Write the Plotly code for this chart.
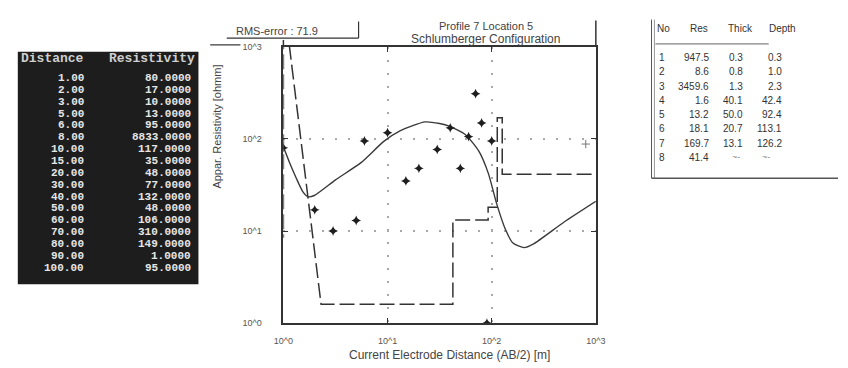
import plotly.graph_objects as go

W, H = 848, 368

# ---------------- data ----------------
distance = [1, 2, 3, 5, 6, 8, 10, 15, 20, 30, 40, 50, 60, 70, 80, 90, 100]
resistivity = [80, 17, 10, 13, 95, 8833, 117, 35, 48, 77, 132, 48, 106, 310, 149, 1, 95]

extra_x = [800]
extra_y = [88]

curve_x = [1.0, 1.155, 1.33, 1.54, 1.72, 1.98, 3.14, 5.6, 9.2, 13.3, 22.9, 31.6, 39,
           56, 75, 93, 111, 135, 160, 205, 250, 500, 1000]
curve_y = [82, 54, 37.4, 26.6, 23.6, 24.3, 35.7, 55.6, 94, 123, 153, 147, 138,
           111, 74, 42, 20.2, 10.5, 7.4, 6.6, 7.2, 12.6, 21]

layer_no = [1, 2, 3, 4, 5, 6, 7, 8]
layer_res = [947.5, 8.6, 3459.6, 1.6, 13.2, 18.1, 169.7, 41.4]
layer_thick = [0.3, 0.8, 1.3, 40.1, 50.0, 20.7, 13.1]
layer_depth = [0.3, 1.0, 2.3, 42.4, 92.4, 113.1, 126.2]

x_ticks = [1, 10, 100, 1000]
x_ticktext = ["10^0", "10^1", "10^2", "10^3"]
y_ticks = [1, 10, 100, 1000]
y_ticktext = ["10^0", "10^1", "10^2", "10^3"]

rms_error = 71.9
YMAX = 1000

# step model line (emulating original program: a layer lying completely above
# the plot range keeps only its top vertex)
tops = [0.1] + layer_depth
bottoms = layer_depth + [1000]
step_x, step_y = [], []
for t, b, r in zip(tops, bottoms, layer_res):
    step_x.append(t); step_y.append(r)
    if r <= YMAX:
        step_x.append(b); step_y.append(r)


def px(x):
    return x / W


def py(y):
    return 1 - y / H


fig = go.Figure()

fig.add_trace(go.Scatter(x=step_x, y=step_y, mode="lines",
                         line=dict(color="#333", width=1.5, dash="15px,5px"),
                         hoverinfo="skip", showlegend=False))
fig.add_trace(go.Scatter(x=curve_x, y=curve_y, mode="lines",
                         line=dict(color="#3a3a3a", width=1.4, shape="spline", smoothing=0.6),
                         showlegend=False))
fig.add_trace(go.Scatter(x=distance, y=resistivity, mode="markers",
                         marker=dict(symbol="star-diamond", size=7, color="#1e1e1e"),
                         showlegend=False))
fig.add_trace(go.Scatter(x=extra_x, y=extra_y, mode="markers",
                         marker=dict(symbol="cross-thin", size=6, line=dict(color="#777", width=1)),
                         showlegend=False))

x0, x1 = 280, 600
yt, yb = 43, 327

fig.update_layout(
    width=W, height=H, margin=dict(l=0, r=0, t=0, b=0),
    paper_bgcolor="white", plot_bgcolor="white",
    font=dict(family="Liberation Sans, Arial, sans-serif", color="#444"),
    xaxis=dict(type="log", range=[0, 3], domain=[px(x0), px(x1)],
               tickvals=x_ticks, ticktext=x_ticktext, ticks="inside", ticklen=5,
               tickcolor="#333", tickfont=dict(size=9, color="#555"),
               showline=True, linecolor="#333", linewidth=1.5, mirror="ticks",
               showgrid=True, gridcolor="#a8a8a8", gridwidth=1.5, griddash="2px,11px",
               zeroline=False, ticklabelstandoff=8),
    yaxis=dict(type="log", range=[0, 3], domain=[py(yb), py(yt)],
               tickvals=y_ticks, ticktext=y_ticktext, ticks="inside", ticklen=5,
               tickcolor="#333", tickfont=dict(size=9, color="#555"),
               showline=True, linecolor="#333", linewidth=1.5, mirror="ticks",
               showgrid=True, gridcolor="#a8a8a8", gridwidth=1.5, griddash="2px,11px",
               zeroline=False, ticklabelstandoff=18),
)

shapes = []
# frame extensions and RMS box
shapes.append(dict(type="line", xref="paper", yref="paper", x0=px(280), x1=px(280),
                   y0=py(yt), y1=py(36), line=dict(color="#333", width=1.5)))
shapes.append(dict(type="line", xref="paper", yref="paper", x0=px(600), x1=px(600),
                   y0=py(yt), y1=py(16), line=dict(color="#333", width=1.5)))
shapes.append(dict(type="line", xref="paper", yref="paper", x0=px(222), x1=px(357),
                   y0=py(34), y1=py(34), line=dict(color="#333", width=1.2)))
shapes.append(dict(type="line", xref="paper", yref="paper", x0=px(357), x1=px(357),
                   y0=py(34), y1=py(17), line=dict(color="#333", width=1.2)))
shapes.append(dict(type="line", xref="paper", yref="paper", x0=px(205), x1=px(236),
                   y0=py(41), y1=py(41), line=dict(color="#333", width=1.2)))
# left black table
shapes.append(dict(type="rect", xref="paper", yref="paper", x0=px(8), x1=px(193),
                   y0=py(287), y1=py(48), fillcolor="#1d1d1d", line=dict(width=0),
                   layer="below"))
# right table frame
shapes.append(dict(type="line", xref="paper", yref="paper", x0=px(657), x1=px(657),
                   y0=py(178), y1=py(15), line=dict(color="#555", width=1)))
shapes.append(dict(type="line", xref="paper", yref="paper", x0=px(660), x1=px(660),
                   y0=py(178), y1=py(15), line=dict(color="#999", width=1)))
shapes.append(dict(type="line", xref="paper", yref="paper", x0=px(657), x1=px(848),
                   y0=py(178), y1=py(178), line=dict(color="#555", width=1.5)))
shapes.append(dict(type="line", xref="paper", yref="paper", x0=px(661), x1=px(777),
                   y0=py(40), y1=py(40), line=dict(color="#666", width=1)))
fig.update_layout(shapes=shapes)

ann = []


def text(x, y, s, size=10, color="#333", xanchor="center", family=None, angle=0):
    d = dict(x=px(x), y=py(y), xref="paper", yref="paper", text=s, showarrow=False,
             xanchor=xanchor, yanchor="middle", textangle=angle,
             font=dict(size=size, color=color))
    if family:
        d["font"]["family"] = family
    ann.append(d)


text(273, 27, f"RMS-error : {rms_error}", size=11, color="#444")
text(487, 22, "Profile 7 Location 5", size=11, color="#444")
text(487, 35, "Schlumberger Configuration", size=12, color="#444")
text(450, 360, "Current Electrode Distance (AB/2) [m]", size=12, color="#444")
text(212, 125, "Appar. Resistivity [ohmm]", size=11, color="#444", angle=-90)

# left table
mono = "Liberation Mono, DejaVu Sans Mono, monospace"
text(9, 55, "<b>Distance</b>", size=13, color="#cfcfcf", xanchor="left", family=mono)
text(192, 55, "<b>Resistivity</b>", size=13, color="#cfcfcf", xanchor="right", family=mono)
for i, (d, r) in enumerate(zip(distance, resistivity)):
    y = 75 + i * 12.19
    text(78, y, f"<b>{d:.2f}</b>", size=11, color="#e6e6e6", xanchor="right", family=mono)
    text(187, y, f"<b>{r:.4f}</b>", size=11, color="#e6e6e6", xanchor="right", family=mono)

# right table
text(661, 24, "No", size=10, color="#333", xanchor="left")
text(706, 24, "Res", size=10, color="#333")
text(748, 24, "Thick", size=10, color="#333")
text(791, 24, "Depth", size=10, color="#333")
for i, n in enumerate(layer_no):
    y = 54 + i * 14.65
    text(663, y, str(n), size=10, color="#333", xanchor="left")
    text(718, y, f"{layer_res[i]:.1f}", size=10, color="#333", xanchor="right")
    if i < len(layer_thick):
        text(753, y, f"{layer_thick[i]:.1f}", size=10, color="#333", xanchor="right")
        text(793, y, f"{layer_depth[i]:.1f}", size=10, color="#333", xanchor="right")
    else:
        text(750, y, "~-", size=9, color="#888", xanchor="right")
        text(780, y, "~-", size=9, color="#888", xanchor="right")

fig.update_layout(annotations=ann)
fig.write_html("out.html")
